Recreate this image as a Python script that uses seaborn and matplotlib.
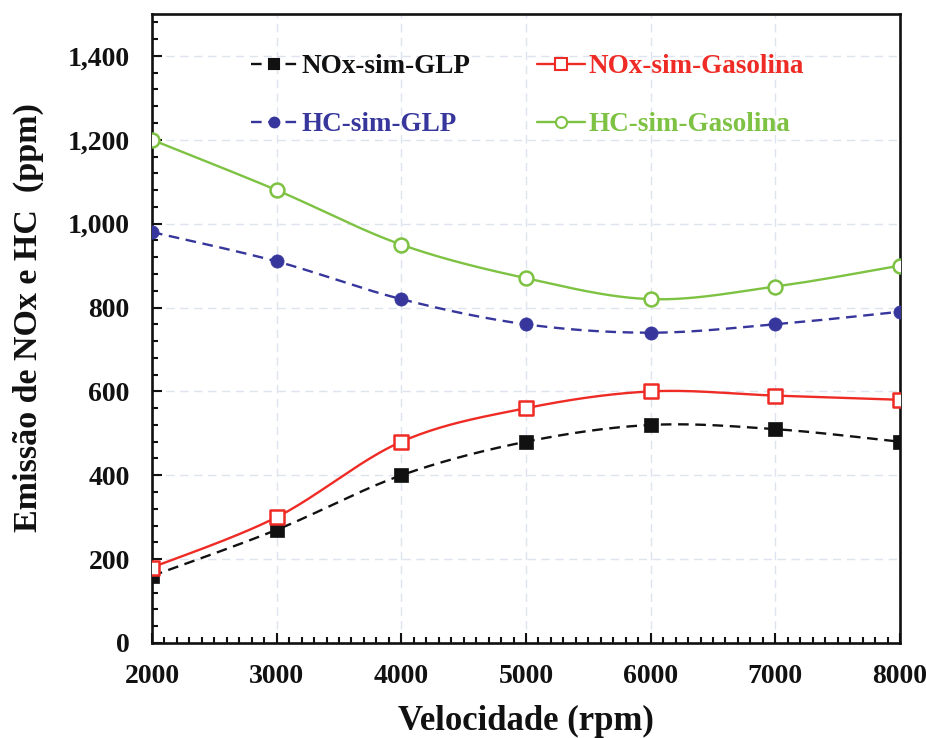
import numpy as np
import pandas as pd
import matplotlib
matplotlib.use("Agg")
import matplotlib.pyplot as plt
from matplotlib.lines import Line2D
from matplotlib.ticker import MultipleLocator, FuncFormatter
import seaborn as sns

# Engine speed (rpm)
speed = [2000, 3000, 4000, 5000, 6000, 7000, 8000]

# Emissions (ppm)
nox_glp = [160, 270, 400, 480, 520, 510, 480]
nox_gasolina = [180, 300, 480, 560, 600, 590, 580]
hc_glp = [980, 910, 820, 760, 740, 760, 790]
hc_gasolina = [1200, 1080, 950, 870, 820, 850, 900]

labels = ["NOx-sim-GLP", "NOx-sim-Gasolina", "HC-sim-GLP", "HC-sim-Gasolina"]

sns.set_theme(style="white")
plt.rcParams["font.family"] = ["Liberation Serif", "DejaVu Serif"]
plt.rcParams["font.weight"] = "bold"

BLACK = "#111111"
RED = "#ee2b25"
BLUE = "#36369c"
GREEN = "#7dc242"

DASH = (0, (4.5, 2.8))
series = [
    dict(y=nox_glp, color=BLACK, ls=DASH, marker="s", filled=True, ms=9.5, lms=6.5),
    dict(y=nox_gasolina, color=RED, ls="-", marker="s", filled=False, ms=10, lms=8),
    dict(y=hc_glp, color=BLUE, ls=DASH, marker="o", filled=True, ms=9.5, lms=7),
    dict(y=hc_gasolina, color=GREEN, ls="-", marker="o", filled=False, ms=10, lms=8),
]

XMIN, XMAX, YMIN, YMAX = 2000, 8000, 0, 1500
AX_W, AX_H = 748.0, 629.0  # axes size in pixels


def smooth_curve(xs, ys, n=40):
    """Bezier smoothing through the points (spreadsheet-style), in screen space."""
    px = (np.asarray(xs, float) - XMIN) * AX_W / (XMAX - XMIN)
    py = (np.asarray(ys, float) - YMIN) * AX_H / (YMAX - YMIN)
    P = np.column_stack([px, py])
    Pe = np.vstack([P[0], P, P[-1]])
    out = []
    t = np.linspace(0, 1, n)[:, None]
    for i in range(len(P) - 1):
        p0, p1, p2, p3 = Pe[i], Pe[i + 1], Pe[i + 2], Pe[i + 3]
        c1 = p1 + (p2 - p0) / 6.0
        c2 = p2 - (p3 - p1) / 6.0
        seg = ((1 - t) ** 3) * p1 + 3 * ((1 - t) ** 2) * t * c1 + 3 * (1 - t) * t ** 2 * c2 + t ** 3 * p2
        out.append(seg if i == 0 else seg[1:])
    C = np.vstack(out)
    cx = C[:, 0] * (XMAX - XMIN) / AX_W + XMIN
    cy = C[:, 1] * (YMAX - YMIN) / AX_H + YMIN
    return cx, cy


fig = plt.figure(figsize=(9.26, 7.38), dpi=100)
ax = fig.add_axes([152 / 926, 1 - 643 / 738, 748 / 926, 629 / 738])

handles = []
for lab, s in zip(labels, series):
    cx, cy = smooth_curve(speed, s["y"])
    curve = pd.DataFrame({"x": cx, "y": cy})
    sns.lineplot(data=curve, x="x", y="y", ax=ax, color=s["color"], lw=1.7,
                 linestyle=s["ls"], sort=False, estimator=None, zorder=3)
    pts = pd.DataFrame({"x": speed, "y": s["y"]})
    face = s["color"] if s["filled"] else "white"
    sns.scatterplot(data=pts, x="x", y="y", ax=ax, marker=s["marker"],
                    s=s["ms"] ** 2, facecolor=face, edgecolor=s["color"],
                    linewidth=1.8 if not s["filled"] else 0.5, zorder=4)
    handles.append(Line2D([], [], color=s["color"], lw=1.7, linestyle=s["ls"],
                          marker=s["marker"], markersize=s["lms"],
                          markerfacecolor=face, markeredgecolor=s["color"],
                          markeredgewidth=1.5))

ax.set_xlim(XMIN, XMAX)
ax.set_ylim(YMIN, YMAX)
ax.xaxis.set_major_locator(MultipleLocator(1000))
ax.xaxis.set_minor_locator(MultipleLocator(100))
ax.yaxis.set_major_locator(MultipleLocator(200))
ax.yaxis.set_minor_locator(MultipleLocator(40))
ax.yaxis.set_major_formatter(FuncFormatter(lambda v, p: f"{int(v):,}"))

ax.grid(True, which="major", color="#dde3ef", lw=1.0, linestyle=(0, (6, 4)))
ax.set_axisbelow(True)

for sp in ax.spines.values():
    sp.set_visible(True)
    sp.set_color(BLACK)
    sp.set_linewidth(1.9)

ax.tick_params(axis="both", which="major", direction="in", length=7, width=1.5,
               color=BLACK, labelsize=20, labelcolor=BLACK)
ax.tick_params(axis="both", which="minor", direction="in", length=4.5, width=1.5,
               color=BLACK)
ax.tick_params(axis="x", which="both", bottom=True, top=False, pad=15)
ax.tick_params(axis="y", which="both", left=True, right=False, pad=16)
for t in ax.get_xticklabels() + ax.get_yticklabels():
    t.set_fontweight("bold")

ax.set_xlabel("Velocidade (rpm)", fontsize=25, fontweight="bold", color=BLACK)
ax.set_ylabel("Emissão de NOx e HC  (ppm)", fontsize=24.5, fontweight="bold", color=BLACK)
ax.xaxis.set_label_coords(0.5, -0.098)
ax.yaxis.set_label_coords(-0.145, 0.517)

# Two columns: GLP on the left, Gasolina on the right
order = [0, 2, 1, 3]
leg = ax.legend([handles[i] for i in order], [labels[i] for i in order],
                ncol=2, loc="upper left", bbox_to_anchor=(0.0995, 0.975),
                frameon=False,
                prop=dict(family="Liberation Serif", weight="bold", size=19.5),
                handlelength=1.75, handletextpad=0.12, columnspacing=2.48,
                labelspacing=1.22, labelcolor="linecolor")

fig.savefig("out.png", dpi=100, facecolor="white")
